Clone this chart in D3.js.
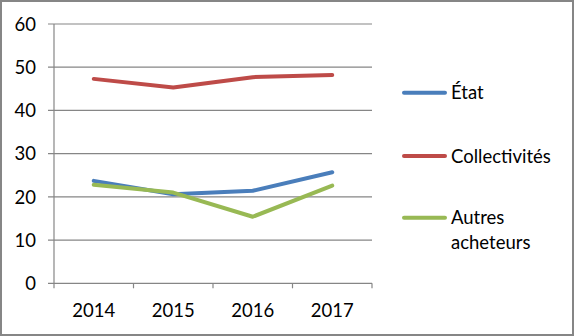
<!DOCTYPE html>
<html><head><meta charset="utf-8">
<script src="https://cdn.jsdelivr.net/npm/d3@7"></script>
<style>body{margin:0;background:#fff}svg{display:block}text{font-family:Lato,"Open Sans",sans-serif;fill:#000}</style>
</head><body><div id="c"></div>
<script>
const categories = ["2014","2015","2016","2017"];
const etat = [23.7, 20.6, 21.4, 25.7];
const collectivites = [47.3, 45.3, 47.7, 48.2];
const autres = [22.8, 21.0, 15.4, 22.6];
const seriesNames = ["État","Collectivités","Autres acheteurs"];
const yTicks = [0,10,20,30,40,50,60];

const W=574,H=336;
const svg=d3.select("#c").append("svg").attr("width",W).attr("height",H);
svg.append("rect").attr("x",1).attr("y",1).attr("width",W-2).attr("height",H-2).attr("fill","#fff").attr("stroke","#868686").attr("stroke-width",2);

const L=54,R=372,T=24,B=283.3;
const x=d3.scaleBand().domain(categories).range([L,R]);
const y=d3.scaleLinear().domain([0,60]).range([B,T]);

svg.append("g").selectAll("line").data(yTicks).join("line")
 .attr("x1",L-6).attr("x2",R).attr("y1",d=>y(d)).attr("y2",d=>y(d))
 .attr("stroke","#868686").attr("stroke-width",1.2);
svg.append("line").attr("x1",L).attr("x2",L).attr("y1",T).attr("y2",B).attr("stroke","#868686").attr("stroke-width",1.2);
const xt=[...categories.map(c=>x(c)),R];
svg.append("g").selectAll("line").data(xt).join("line")
 .attr("x1",d=>d).attr("x2",d=>d).attr("y1",B).attr("y2",B+5)
 .attr("stroke","#868686").attr("stroke-width",1.2);
svg.append("g").selectAll("text").data(yTicks).join("text")
 .attr("x",36).attr("y",d=>y(d)).attr("dy","0.36em").attr("text-anchor","end")
 .attr("font-size",18.5).text(d=>d);
svg.append("g").selectAll("text").data(categories).join("text")
 .attr("x",d=>x(d)+x.bandwidth()/2).attr("y",310).attr("dy","0.36em").attr("text-anchor","middle")
 .attr("font-size",18.5).text(d=>d);

const colors=["#4a7ebb","#be4b48","#98b954"];
const data=[etat,collectivites,autres];
const line=d3.line().x((d,i)=>x(categories[i])+x.bandwidth()/2).y(d=>y(d));
svg.append("g").selectAll("path").data(data).join("path")
 .attr("d",line).attr("fill","none").attr("stroke",(d,i)=>colors[i]).attr("stroke-width",4).attr("stroke-linejoin","round").attr("stroke-linecap","round");

const ly=[92.7,156,217.7];
const lg=svg.append("g");
seriesNames.forEach((n,i)=>{
  lg.append("line").attr("x1",404).attr("x2",445).attr("y1",ly[i]).attr("y2",ly[i]).attr("stroke",colors[i]).attr("stroke-width",4).attr("stroke-linecap","round");
  const t=lg.append("text").attr("x",451).attr("y",ly[i]).attr("dy","0.36em").attr("font-size",18.5);
  if(n==="Autres acheteurs"){
    t.append("tspan").attr("x",451).text("Autres");
    t.append("tspan").attr("x",451).attr("dy","1.35em").text("acheteurs");
  } else t.text(n);
});
</script></body></html>
